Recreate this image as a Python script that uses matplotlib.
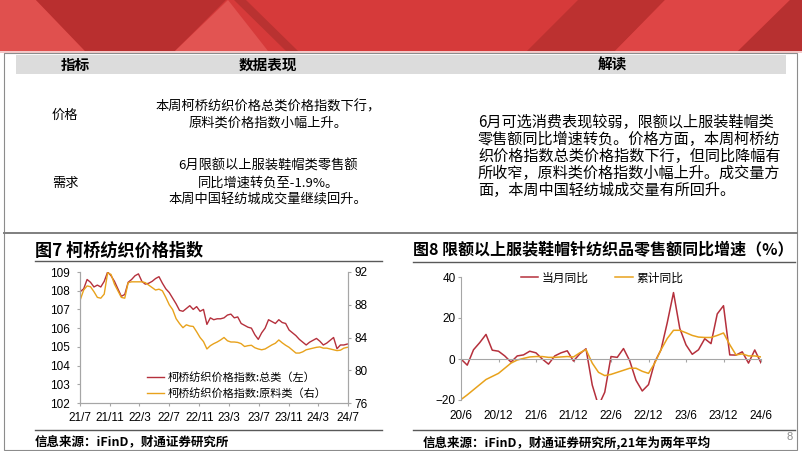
import matplotlib
matplotlib.use('Agg')
import matplotlib.pyplot as plt
from matplotlib.patches import Polygon, Rectangle
import pandas as pd

plt.rcParams['font.family'] = ['Noto Sans CJK SC', 'DejaVu Sans']

W, H = 802, 451

# 图7 柯桥纺织价格指数 (biweekly readings)
kq_dates = pd.date_range('2021-07-02', periods=79, freq='14D')
kq_total = [107.95, 108.1, 108.6, 108.45, 108.2, 108.3, 108.2, 108.5, 109.0, 108.8,
            108.5, 108.1, 107.7, 107.8, 108.45, 108.6, 108.8, 108.9, 108.5, 108.35,
            108.4, 108.5, 108.65, 108.75, 108.4, 108.1, 107.9, 107.6, 107.3, 106.95,
            106.9, 107.05, 107.2, 107.0, 107.15, 106.9, 107.0, 106.2, 106.55, 106.45,
            106.5, 106.5, 106.55, 106.7, 106.75, 106.55, 106.6, 106.25, 106.15, 106.05,
            106.0, 105.65, 105.4, 105.75, 106.0, 106.45, 106.35, 106.25, 106.45, 106.3,
            106.25, 105.9, 105.75, 105.6, 105.4, 105.25, 105.1, 105.25, 105.35, 105.45,
            105.3, 105.1, 105.2, 105.35, 105.5, 104.9, 105.1, 105.1, 105.15]
kq_raw = [88.6, 89.8, 90.3, 90.2, 89.6, 88.9, 88.8, 89.3, 91.9, 91.7,
          90.5, 89.7, 88.9, 88.8, 90.7, 90.8, 90.8, 90.8, 90.8, 90.7,
          90.4, 90.1, 89.8, 89.9, 89.7, 88.9, 88.0, 87.4, 86.3, 85.7,
          85.2, 85.55, 85.4, 85.35, 84.7, 84.0, 83.5, 82.6, 83.0, 83.25,
          83.45, 83.7, 84.0, 83.6, 83.45, 83.45, 83.4, 83.25, 82.9, 83.0,
          83.05, 82.75, 82.6, 82.5, 82.6, 82.85, 83.1, 83.3, 83.7, 83.35,
          83.05, 82.8, 82.45, 82.1, 82.1, 82.25, 82.5, 82.6, 82.7, 82.8,
          82.85, 82.7, 82.7, 82.6, 82.5, 82.4, 82.45, 82.7, 82.8]
kq_ticks = pd.date_range('2021-07-01', '2024-07-01', freq='4MS')
kq_labels = ['21/7', '21/11', '22/3', '22/7', '22/11', '23/3', '23/7', '23/11', '24/3', '24/7']

# 图8 限额以上服装鞋帽针纺织品零售额同比增速 (%)
retail_months = pd.period_range('2020-06', '2024-06', freq='M')
retail_month_yoy = [0, -3, 4.5, 8, 12, 4.3, 3.8, 1.5, -1.5, 1.5,
                    2, 3.8, 3, 0, -2.5, 1.5, 3, 4, -1, 2.5,
                    5, -12.7, -22.8, -16.2, 1.2, 0.8, 5.1, -0.9, -10.4, -15.6,
                    -12.5, -1.5, 4.5, 17.7, 32.4, 15, 6.9, 2.3, 4.5, 9.9,
                    7.5, 22, 26, 2, 1.9, 3.5, -2, 4.4, -1.9]
retail_cum_yoy = [-19.8, -17.5, -15, -12.5, -10, -8.5, -7, -4.5, -2, -0.5,
                  0.3, 1, 1.2, 1.2, 0.8, 0.8, 1, 1.2, 1, 3,
                  4.6, -2, -6.5, -8.1, -7.5, -6.5, -5.5, -4.5, -4.5, -6,
                  -7, -2, 4.5, 10, 14, 14, 12.8, 11.5, 10.7, 10.5,
                  10.5, 11.5, 12.7, 7, 2, 2.5, 1.5, 1.5, 1]
retail_labels = ['20/6', '20/12', '21/6', '21/12', '22/6', '22/12', '23/6', '23/12', '24/6']

RED = '#B5303C'
GOLD = '#E8A21C'
GREY = '#A6A6A6'
NUM = 'Liberation Sans'


def px_axes(fig, x0, y0, x1, y1):
    return fig.add_axes([x0 / W, 1 - y1 / H, (x1 - x0) / W, (y1 - y0) / H])


fig = plt.figure(figsize=(W / 100, H / 100), dpi=100)

# background layer in pixel coordinates
bg = fig.add_axes([0, 0, 1, 1])
bg.set_xlim(0, W)
bg.set_ylim(H, 0)
bg.axis('off')

# banner
bg.add_patch(Rectangle((0, 0), W, 51, color='#D63A3A', lw=0))
banner = [
    ([(0, 0), (36, 0), (85, 51), (0, 51)], '#E0504E'),
    ([(36, 0), (226, 0), (175, 51), (85, 51)], '#B92F2F'),
    ([(175, 51), (228, 0), (268, 51)], '#E25452'),
    ([(234, 0), (246, 0), (298, 51), (286, 51)], '#B93231'),
    ([(527, 51), (578, 0), (665, 0), (615, 51)], '#BC3130'),
    ([(615, 51), (665, 0), (790, 0), (738, 51)], '#DE4545'),
    ([(738, 51), (790, 0), (802, 0), (802, 51)], '#B73030'),
]
for pts, c in banner:
    bg.add_patch(Polygon(pts, closed=True, color=c, lw=0))
bg.add_patch(Rectangle((0, 51), W, 2, color='#F3C9C9', lw=0))

# frame
bg.add_patch(Rectangle((4, 53), 793, 397, fill=False, ec='#8C8C8C', lw=0.8))

# table
bg.add_patch(Rectangle((16, 55), 770, 19, color='#DCDCDC', lw=0))
for x, s in [(75, '指标'), (268, '数据表现'), (612, '解读')]:
    bg.text(x, 65, s, ha='center', va='center', fontsize=10.5, fontweight='bold')

bg.text(65, 115, '价格', ha='center', va='center', fontsize=9.5)
bg.text(65, 183, '需求', ha='center', va='center', fontsize=9.5)
for y, s in [(107, '本周柯桥纺织价格总类价格指数下行，'),
             (123, '原料类价格指数小幅上升。'),
             (166, '6月限额以上服装鞋帽类零售额'),
             (183, '同比增速转负至-1.9%。'),
             (200, '本周中国轻纺城成交量继续回升。')]:
    bg.text(268, y, s, ha='center', va='center', fontsize=9.5)
for y, s in [(122, '6月可选消费表现较弱，限额以上服装鞋帽类'),
             (139, '零售额同比增速转负。价格方面，本周柯桥纺'),
             (156, '织价格指数总类价格指数下行，但同比降幅有'),
             (173, '所收窄，原料类价格指数小幅上升。成交量方'),
             (190, '面，本周中国轻纺城成交量有所回升。')]:
    bg.text(478, y, s, ha='left', va='center', fontsize=10.9)

# panel rules
bg.plot([4, 797], [233, 233], color='#7F7F7F', lw=1.4)
bg.plot([35, 382], [261, 261], color='#595959', lw=1)
bg.plot([413, 795], [262, 262], color='#595959', lw=1)
bg.plot([35, 382], [430, 430], color='#595959', lw=1)
bg.plot([413, 795], [430, 430], color='#595959', lw=1)

bg.text(35, 251, '图7 柯桥纺织价格指数', ha='left', va='center',
        fontsize=12.3, fontweight='bold', style='italic')
bg.text(413, 250, '图8 限额以上服装鞋帽针纺织品零售额同比增速（%）', ha='left', va='center',
        fontsize=11.5, fontweight='bold', style='italic')
bg.text(35, 442, '信息来源：iFinD，财通证券研究所', ha='left', va='center',
        fontsize=9, fontweight='bold', style='italic')
bg.text(423, 442, '信息来源：iFinD，财通证券研究所,21年为两年平均', ha='left', va='center',
        fontsize=9, fontweight='bold', style='italic')
bg.text(790, 437, '8', ha='center', va='center', fontsize=8, color='#8C8C8C', family=NUM)

# 图7
ax7 = px_axes(fig, 80, 272, 348, 403)
ax7r = ax7.twinx()
l1, = ax7.plot(kq_dates, kq_total, color=RED, lw=1.0, label='柯桥纺织价格指数:总类（左）')
l2, = ax7r.plot(kq_dates, kq_raw, color=GOLD, lw=1.0, label='柯桥纺织价格指数:原料类（右）')
ax7.set_xlim(kq_ticks[0], kq_ticks[-1])
ax7.set_ylim(102, 109)
ax7r.set_ylim(76, 92)
ax7.set_yticks(range(102, 110))
ax7r.set_yticks(range(76, 93, 4))
ax7.set_xticks(kq_ticks)
ax7.set_xticklabels(kq_labels)
for a in (ax7, ax7r):
    a.patch.set_alpha(0)
    a.spines['top'].set_visible(False)
    for s in ('left', 'right', 'bottom'):
        a.spines[s].set_color(GREY)
        a.spines[s].set_linewidth(0.8)
    a.tick_params(colors=GREY, labelcolor='black', labelsize=8.5, length=2.5, width=0.8)
    for t in a.get_xticklabels() + a.get_yticklabels():
        t.set_family(NUM)
ax7.tick_params(axis='y', pad=5)
ax7r.tick_params(axis='y', pad=2)
ax7.tick_params(axis='x', pad=4)
ax7.legend(handles=[l1, l2], loc='upper left', bbox_to_anchor=(141 / W, 1 - 366 / H),
           bbox_transform=fig.transFigure, frameon=False, fontsize=8,
           handlelength=1.6, handletextpad=0.3, labelspacing=0.5, borderpad=0)

# 图8
ax8 = px_axes(fig, 461, 277, 761, 400)
idx = range(len(retail_months))
m1, = ax8.plot(idx, retail_month_yoy, color=RED, lw=1.1, label='当月同比')
m2, = ax8.plot(idx, retail_cum_yoy, color=GOLD, lw=1.1, label='累计同比')
ax8.set_xlim(0, len(retail_months) - 1)
ax8.set_ylim(-20, 40)
ax8.set_yticks([-20, 0, 20, 40])
ax8.set_xticks(range(0, len(retail_months), 6))
ax8.set_xticklabels(retail_labels)
ax8.patch.set_alpha(0)
for s in ('top', 'right'):
    ax8.spines[s].set_visible(False)
ax8.spines['left'].set_color(GREY)
ax8.spines['left'].set_linewidth(0.8)
ax8.spines['bottom'].set_position(('data', 0))
ax8.spines['bottom'].set_color(GREY)
ax8.spines['bottom'].set_linewidth(0.8)
ax8.tick_params(colors=GREY, labelcolor='black', labelsize=8.5, length=2.5, width=0.8)
ax8.tick_params(axis='x', pad=34)
ax8.tick_params(axis='y', pad=1.5)
for t in ax8.get_xticklabels() + ax8.get_yticklabels():
    t.set_family(NUM)
ax8.legend(handles=[m1, m2], loc='center', bbox_to_anchor=(602 / W, 1 - 278 / H),
           bbox_transform=fig.transFigure, ncol=2, frameon=False, fontsize=8.5,
           handlelength=1.5, handletextpad=0.3, columnspacing=2.2, borderpad=0)

fig.savefig('out.png', dpi=100)
